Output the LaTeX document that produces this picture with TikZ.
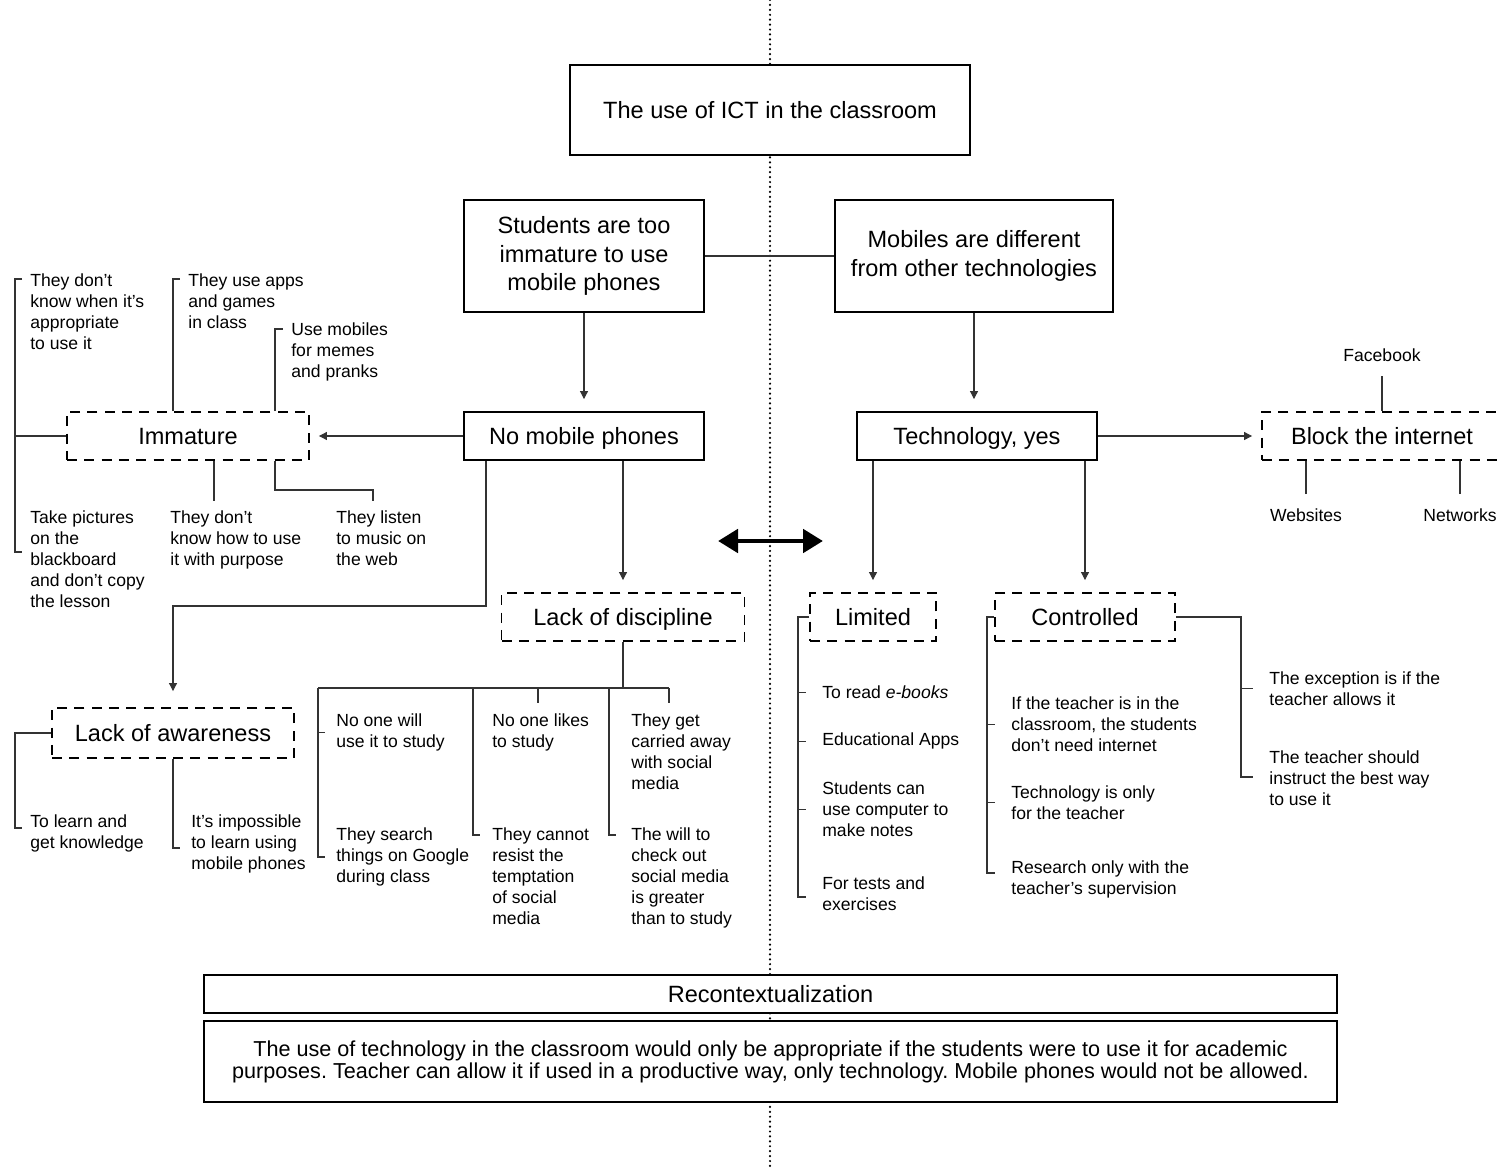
\documentclass[tikz,border=0pt]{standalone}
\usepackage{fontspec}
\setmainfont{Liberation Sans}
\usetikzlibrary{arrows.meta,positioning}
\frenchspacing

\newcommand\boxfont{\fontsize{13.4}{16.2}\selectfont}
\newcommand\notefont{\fontsize{10}{11.95}\selectfont}
\newcommand\sumfont{\fontsize{12.3}{12.5}\selectfont}

\begin{document}
\begin{tikzpicture}[
    x=0.02cm, y=-0.02cm,
    >={Triangle[length=0.16cm,width=0.16cm]},
    box/.style={draw, line width=1.1pt, fill=white, font=\boxfont, align=center, inner sep=0pt},
    oneline/.style={text height=9.6pt, text depth=0pt},
    dbox/.style={box, oneline, dash pattern=on 0.2cm off 0.146cm},
    note/.style={anchor=north west, inner sep=0pt, font=\notefont, align=left},
    lab/.style={inner xsep=0pt, inner ysep=0.28cm, font=\notefont},
    link/.style={line width=0.6pt, color=black!80},
    arr/.style={link, ->, shorten >=0.24cm},
    divider/.style={line width=1.4pt, line cap=round, dash pattern=on 0pt off 2.8pt},
    both/.style={line width=2.8pt, {Triangle[length=0.4cm,width=0.46cm]}-{Triangle[length=0.4cm,width=0.46cm]}}
  ]
  \useasboundingbox (0,0) rectangle (1497,1170);

  % dotted divider behind everything
  \coordinate (dtop) at (770,0);
  \coordinate (dbot) at (770,1170);
  \draw[divider] (dtop) -- (dbot);

  \node[box, oneline, minimum width=8cm, minimum height=1.8cm] (ICT) at (770,110) {The use of ICT in the classroom};
  \node[box, minimum width=4.8cm, minimum height=2.24cm] (S) at (584,256) {Students are too\\immature to use\\mobile phones};
  \node[box, minimum width=5.56cm, minimum height=2.24cm] (M) at (974,256) {Mobiles are different\\from other technologies};
  \node[box, oneline, minimum width=4.8cm, minimum height=0.96cm] (NM) at (584,436) {No mobile phones};
  \node[box, oneline, minimum width=4.8cm, minimum height=0.96cm] (TY) at (977,436) {Technology, yes};
  \node[dbox, minimum width=4.84cm, minimum height=0.96cm] (Imm) at (188,436) {Immature};
  \node[dbox, minimum width=4.8cm, minimum height=0.96cm] (Blk) at (1382,436) {Block the internet};
  \node[dbox, minimum width=4.84cm, minimum height=1cm] (LA) at (173,733) {Lack of awareness};
  \node[dbox, minimum width=4.86cm, minimum height=0.96cm] (LD) at (623,617) {Lack of discipline};
  \node[dbox, minimum width=2.52cm, minimum height=0.96cm] (Lim) at (873,617) {Limited};
  \node[dbox, minimum width=3.6cm, minimum height=0.96cm] (Ctl) at (1085,617) {Controlled};
  \node[box, oneline, minimum width=22.66cm, minimum height=0.76cm] (Rec) at (770.5,994) {Recontextualization};
  \node[box, minimum width=22.66cm, minimum height=1.62cm, font=\sumfont] (Sum) at (770.5,1061.5) {The use of technology in the classroom would only be appropriate if the students were to use it for academic\\purposes. Teacher can allow it if used in a productive way, only technology. Mobile phones would not be allowed.};

  \node[lab, above=0.7cm of Blk] (fb) {Facebook};
  \node[lab] (web) at (1306,515) {Websites};
  \node[lab] (net) at (1460,515) {Networks};

  \node[note] (a1) at (30,273.5) {They don’t\\know when it’s\\appropriate\\to use it};
  \node[note] (a2) at (188,273.5) {They use apps\\and games\\in class};
  \node[note] (a3) at (291,322.5) {Use mobiles\\for memes\\and pranks};
  \node[note] (a4) at (30,510.5) {Take pictures\\on the\\blackboard\\and don’t copy\\the lesson};
  \node[note] (a5) at (170,510.5) {They don’t\\know how to use\\it with purpose};
  \node[note] (a6) at (336,510.5) {They listen\\to music on\\the web};
  \node[note] (c1) at (30,814.5) {To learn and\\get knowledge};
  \node[note] (c2) at (191,814.5) {It’s impossible\\to learn using\\mobile phones};
  \node[note] (d1) at (336,713.5) {No one will\\use it to study};
  \node[note] (d2) at (336,827.5) {They search\\things on Google\\during class};
  \node[note] (d3) at (492,713.5) {No one likes\\to study};
  \node[note] (d4) at (492,827.5) {They cannot\\resist the\\temptation\\of social\\media};
  \node[note] (d5) at (631,713.5) {They get\\carried away\\with social\\media};
  \node[note] (d6) at (631,827.5) {The will to\\check out\\social media\\is greater\\than to study};
  \node[note] (e1) at (822,685.5) {To read \textit{e-books}};
  \node[note] (e2) at (822,732.5) {Educational Apps};
  \node[note] (e3) at (822,781.5) {Students can\\use computer to\\make notes};
  \node[note] (e4) at (822,876.5) {For tests and\\exercises};
  \node[note] (f1) at (1011,696.5) {If the teacher is in the\\classroom, the students\\don’t need internet};
  \node[note] (f2) at (1011,785.5) {Technology is only\\for the teacher};
  \node[note] (f3) at (1011,860.5) {Research only with the\\teacher’s supervision};
  \node[note] (g1) at (1269,671.5) {The exception is if the\\teacher allows it};
  \node[note] (g2) at (1269,750.5) {The teacher should\\instruct the best way\\to use it};

  \draw[link] (S) -- (M);
  \draw[arr] (S) -- (NM);
  \draw[arr] (M.south) -- (M.south |- TY.north);
  \draw[arr, shorten >=0.18cm] (TY) -- (Blk);
  \draw[arr, shorten >=0.18cm] (NM) -- (Imm);
  \draw[link] (fb.south) -- (fb.south |- Blk.north);
  \draw[link] (web.north) -- (web.north |- Blk.south);
  \draw[link] (net.north) -- (net.north |- Blk.south);

  % immature
  \coordinate (imT) at (15,279);
  \coordinate (imB) at (15,552);
  \draw[link] (imT) ++(7,0) -- (imT) -- (imB) -- ++(7,0);
  \draw[link] (Imm.west) -- (Imm.west -| imT);
  \coordinate (ap) at (173,279);
  \draw[link] (Imm.north -| ap) -- (ap) -- ++(7,0);
  \coordinate (mm) at (275,329);
  \draw[link] (Imm.north -| mm) -- (mm) -- ++(8,0);
  \coordinate (hw) at (214,501);
  \draw[link] (Imm.south -| hw) -- (hw);
  \coordinate (ms1) at (275,490);
  \coordinate (ms2) at (373,501);
  \draw[link] (Imm.south -| ms1) -- (ms1) -| (ms2);

  \coordinate (nl) at (486,606);
  \draw[arr, shorten >=0.32cm] (NM.south -| nl) -- (nl) -| (LA.north);
  \draw[arr] (NM.south -| LD.north) -- (LD.north);

  % awareness
  \coordinate (lk) at (15,828);
  \draw[link] (LA.west) -| (lk) -- ++(7,0);
  \coordinate (li) at (173,848);
  \draw[link] (LA.south) -- (li) -- ++(7,0);

  % discipline
  \coordinate (ldj) at (623,688);
  \draw[link] (LD.south) -- (ldj);
  \coordinate (s1) at (318,857);
  \coordinate (s2) at (473,835);
  \coordinate (s3) at (538,703);
  \coordinate (s4) at (609,835);
  \coordinate (s5) at (669,703);
  \draw[link] (s1 |- ldj) -- (s5 |- ldj);
  \foreach \s in {s1,s2,s4}
    \draw[link] (\s |- ldj) -- (\s) -- ++(7,0);
  \foreach \s in {s3,s5}
    \draw[link] (\s |- ldj) -- (\s);
  \draw[link] (s1 |- d1.west) -- ++(7,0);

  \draw[arr] (TY.south -| Lim.north) -- (Lim.north);
  \draw[arr] (TY.south -| Ctl.north) -- (Ctl.north);

  % limited
  \coordinate (lb) at (798,897);
  \draw[link] (Lim.west) -| (lb) -- ++(8,0);
  \foreach \n in {e1,e2,e3}
    \draw[link] (lb |- \n.west) -- ++(8,0);

  % controlled
  \coordinate (cb) at (987,873);
  \draw[link] (Ctl.west) -| (cb) -- ++(8,0);
  \foreach \n in {f1,f2}
    \draw[link] (cb |- \n.west) -- ++(8,0);
  \coordinate (cr) at (1241,777);
  \draw[link] (Ctl.east) -| (cr) -- ++(12,0);
  \draw[link] (cr |- g1.west) -- ++(12,0);

  \coordinate (dl) at (718,541);
  \coordinate (dr) at (823,541);
  \draw[both] (dl) -- (dr);
\end{tikzpicture}
\end{document}
